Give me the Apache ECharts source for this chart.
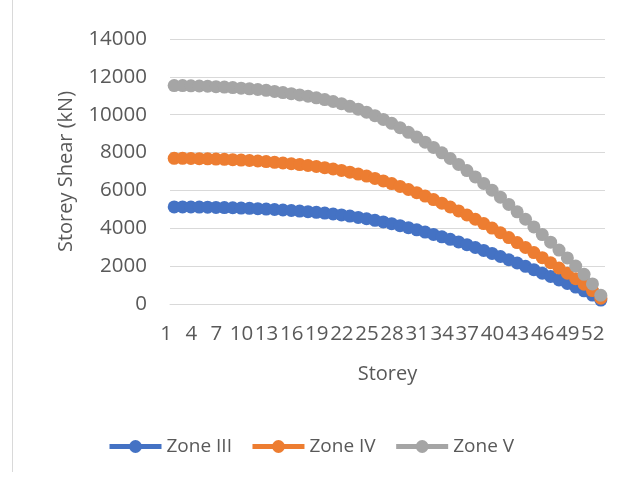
<!DOCTYPE html>
<html>
<head>
<meta charset="utf-8">
<script src="https://cdn.jsdelivr.net/npm/echarts@6/dist/echarts.min.js"></script>
<style>
  html, body { margin: 0; padding: 0; background: #ffffff; }
  #chart { width: 624px; height: 477px; }
</style>
</head>
<body>
<div id="chart"></div>
<script>
// Storey numbers 1..52
const storeys = [
  1, 2, 3, 4, 5, 6, 7, 8, 9, 10, 11, 12, 13, 14, 15, 16, 17, 18, 19, 20,
  21, 22, 23, 24, 25, 26, 27, 28, 29, 30, 31, 32, 33, 34, 35, 36, 37, 38, 39, 40,
  41, 42, 43, 44, 45, 46, 47, 48, 49, 50, 51, 52
];

// Storey shear (kN) per seismic zone
const zoneIII = [
  5130, 5130, 5125, 5120, 5115, 5104, 5094, 5084, 5068, 5053,
  5038, 5017, 4991, 4966, 4940, 4909, 4879, 4843, 4802, 4756,
  4704, 4643, 4576, 4504, 4422, 4335, 4243, 4140, 4032, 3919,
  3801, 3678, 3550, 3417, 3278, 3134, 2986, 2832, 2673, 2509,
  2339, 2165, 1990, 1811, 1631, 1452, 1267, 1082, 893, 698,
  472, 205
];
const zoneIV = [
  7695, 7695, 7687, 7679, 7672, 7657, 7641, 7626, 7603, 7580,
  7556, 7526, 7487, 7449, 7410, 7364, 7318, 7264, 7203, 7133,
  7056, 6964, 6864, 6756, 6633, 6502, 6364, 6210, 6048, 5879,
  5702, 5517, 5325, 5125, 4917, 4702, 4478, 4248, 4009, 3763,
  3509, 3247, 2986, 2716, 2447, 2178, 1901, 1624, 1339, 1047,
  708, 308
];
const zoneV = [
  11540, 11540, 11528, 11517, 11505, 11482, 11459, 11436, 11402, 11367,
  11332, 11286, 11228, 11171, 11113, 11044, 10975, 10894, 10801, 10698,
  10582, 10444, 10294, 10132, 9947, 9751, 9544, 9313, 9070, 8817,
  8551, 8274, 7986, 7686, 7374, 7051, 6716, 6370, 6012, 5643,
  5262, 4870, 4478, 4074, 3670, 3266, 2850, 2435, 2008, 1569,
  1062, 462
];

const seriesNames = ['Zone III', 'Zone IV', 'Zone V'];
const seriesColors = ['#4472C4', '#ED7D31', '#A5A5A5'];
const seriesData = [zoneIII, zoneIV, zoneV];

const FONT = '"Open Sans", "Noto Sans", sans-serif';
const TEXT = '#595959';

const chart = echarts.init(document.getElementById('chart'), null, { renderer: 'canvas' });

chart.setOption({
  animation: false,
  backgroundColor: '#ffffff',
  textStyle: { fontFamily: FONT, color: TEXT },
  graphic: [{
    type: 'line',
    shape: { x1: 12.5, y1: 0, x2: 12.5, y2: 472 },
    style: { stroke: '#D9D9D9', lineWidth: 1 },
    silent: true
  }],
  grid: { left: 170, right: 19, top: 39, bottom: 173 },
  legend: {
    left: 102,
    top: 432,
    itemWidth: 52,
    itemHeight: 16,
    itemGap: 18,
    lineStyle: { width: 5 },
    textStyle: { fontFamily: FONT, fontSize: 19, color: TEXT },
    data: seriesNames
  },
  xAxis: {
    type: 'category',
    data: storeys,
    boundaryGap: true,
    name: 'Storey',
    nameLocation: 'middle',
    nameGap: 60,
    nameTextStyle: { fontFamily: FONT, fontSize: 20, color: TEXT },
    axisLine: { show: true, lineStyle: { color: '#D9D9D9', width: 1 } },
    axisTick: { show: false },
    axisLabel: {
      interval: 2,
      margin: 20,
      fontFamily: FONT,
      fontSize: 20.5,
      color: TEXT,
      padding: [0, 16, 0, 0]
    },
    splitLine: { show: false }
  },
  yAxis: {
    type: 'value',
    min: 0,
    max: 14000,
    interval: 2000,
    name: 'Storey Shear (kN)',
    nameLocation: 'middle',
    nameGap: 94,
    nameRotate: 90,
    nameTextStyle: { fontFamily: FONT, fontSize: 20, color: TEXT },
    axisLine: { show: false },
    axisTick: { show: false },
    axisLabel: {
      margin: 23,
      fontFamily: FONT,
      fontSize: 20.5,
      color: TEXT,
      formatter: (v) => String(v)
    },
    splitLine: { show: true, lineStyle: { color: '#D9D9D9', width: 1 } }
  },
  series: seriesNames.map((name, k) => ({
    name: name,
    type: 'line',
    data: seriesData[k],
    symbol: 'circle',
    symbolSize: 13,
    showSymbol: true,
    showAllSymbol: true,
    color: seriesColors[k],
    itemStyle: { color: seriesColors[k] },
    lineStyle: { color: seriesColors[k], width: 4.5 },
    emphasis: { disabled: true }
  }))
});
</script>
</body>
</html>
